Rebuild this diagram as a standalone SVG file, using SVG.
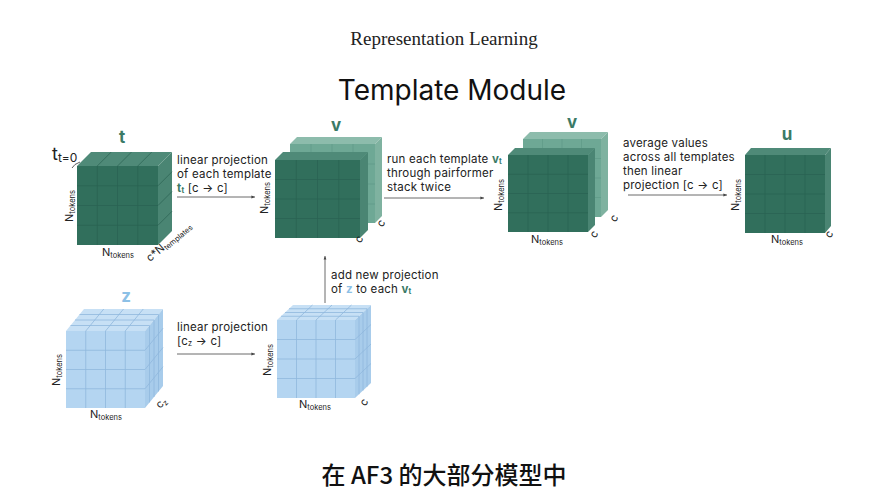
<svg xmlns="http://www.w3.org/2000/svg" width="889" height="500" viewBox="0 0 889 500">
<defs>
<marker id="ah" viewBox="0 0 10 10" refX="9" refY="5" markerWidth="5" markerHeight="5" orient="auto"><path d="M0,1.5 L9,5 L0,8.5 z" fill="#444"/></marker>
<style>
.gf{fill:#316f5c}.gt{fill:#4f8a78}.gr{fill:#4a8573}
.gl{stroke:#2a6251;stroke-width:0.7;fill:none}
.lf{fill:#6ea895}.lt{fill:#8dbcac}.lr{fill:#7fb2a0}
.ll{stroke:#5f9a87;stroke-width:0.7;fill:none}
.bf{fill:#b4d5f1}.bt{fill:#c7e0f5}.br{fill:#a8cceb}
.bl{stroke:#8fb8dd;stroke-width:0.8;fill:none}
.tx{font-family:Inter,"Liberation Sans",sans-serif;font-size:11.5px;letter-spacing:0.2px;fill:#222}
.lb{font-family:Inter,"Liberation Sans",sans-serif;font-size:11px;fill:#222}
.sb{font-size:7.5px}
.hg{font-family:Inter,"Liberation Sans",sans-serif;font-size:17px;font-weight:bold;fill:#3b7a66}
.hb{font-family:Inter,"Liberation Sans",sans-serif;font-size:17px;font-weight:bold;fill:#8cc0e6}
.ar{stroke:#444;stroke-width:0.8;fill:none;marker-end:url(#ah)}
</style>
</defs>
<rect width="889" height="500" fill="#fff"/>
<text x="444" y="45" text-anchor="middle" font-family="'Liberation Serif',serif" font-size="19" fill="#222">Representation Learning</text>
<text x="452" y="100" text-anchor="middle" font-family="Inter,'Liberation Sans',sans-serif" font-size="28" fill="#111">Template Module</text>
<text x="444" y="484" text-anchor="middle" font-family="'Noto Sans CJK SC',sans-serif" font-size="24" font-weight="500" fill="#111">在 AF3 的大部分模型中</text>

<g id="cube-t">
<polygon class="gt" points="77,166 91,152 172,152 158,166"/>
<polygon class="gr" points="158,166 172,152 172,231 158,245"/>
<rect class="gf" x="77" y="166" width="81" height="79"/>
<path class="gl" d="M97.25,166V245M117.5,166V245M137.75,166V245M77,185.75H158M77,205.5H158M77,225.25H158M97.25,166l14,-14M117.5,166l14,-14M137.75,166l14,-14M158,185.75l14,-14M158,205.5l14,-14M158,225.25l14,-14"/>
<text class="hg" x="122" y="143" text-anchor="middle">t</text>
<text font-family="Inter,'Liberation Sans',sans-serif" fill="#222" x="52" y="160" font-size="18">t<tspan font-size="12" dy="2">t=0</tspan></text>
<path d="M72,168 Q74,164 80,162" stroke="#333" stroke-width="0.8" fill="none"/>
<text class="lb" transform="translate(73,206) rotate(-90)" text-anchor="middle">N<tspan class="sb" dy="2">tokens</tspan></text>
<text class="lb" x="118" y="256" text-anchor="middle">N<tspan class="sb" dy="2">tokens</tspan></text>
<text class="lb" transform="translate(150,262) rotate(-40)">c*N<tspan class="sb" dy="2">templates</tspan></text>
</g>

<g id="cube-v">
<polygon class="lt" points="290,144 297,137 382,137 375,144"/>
<polygon class="lr" points="375,144 382,137 382,216 375,223"/>
<rect class="lf" x="290" y="144" width="85" height="79"/>
<path class="ll" d="M311,144V223M332,144V223M353,144V223M290,164H375M290,184H375M290,204H375"/>
<polygon class="gt" points="275,160 283,152 368,152 360,160"/>
<polygon class="gr" points="360,160 368,152 368,230 360,238"/>
<rect class="gf" x="275" y="160" width="85" height="78"/>
<path class="gl" d="M296.25,160V238M317.5,160V238M338.75,160V238M275,179.5H360M275,199H360M275,218.5H360"/>
<text class="hg" x="336" y="131" text-anchor="middle">v</text>
<text class="lb" transform="translate(268,198) rotate(-90)" text-anchor="middle">N<tspan class="sb" dy="2">tokens</tspan></text>
<text class="lb" transform="translate(362,241) rotate(-60)" text-anchor="middle">c</text>
<text class="lb" transform="translate(384,225) rotate(-60)" text-anchor="middle">c</text>
</g>

<g id="cube-v2">
<polygon class="lt" points="523,139 530,132 608,132 601,139"/>
<polygon class="lr" points="601,139 608,132 608,210 601,217"/>
<rect class="lf" x="523" y="139" width="78" height="78"/>
<path class="ll" d="M542.5,139V217M562,139V217M581.5,139V217M523,158.5H601M523,178H601M523,197.5H601"/>
<polygon class="gt" points="508,155 515,148 595,148 588,155"/>
<polygon class="gr" points="588,155 595,148 595,225 588,232"/>
<rect class="gf" x="508" y="155" width="80" height="77"/>
<path class="gl" d="M528,155V232M548,155V232M568,155V232M508,174.25H588M508,193.5H588M508,212.75H588"/>
<text class="hg" x="572" y="128" text-anchor="middle">v</text>
<text class="lb" transform="translate(502,195) rotate(-90)" text-anchor="middle">N<tspan class="sb" dy="2">tokens</tspan></text>
<text class="lb" x="547" y="243" text-anchor="middle">N<tspan class="sb" dy="2">tokens</tspan></text>
<text class="lb" transform="translate(597,236) rotate(-60)" text-anchor="middle">c</text>
<text class="lb" transform="translate(617,220) rotate(-60)" text-anchor="middle">c</text>
</g>

<g id="cube-u">
<polygon class="gt" points="745,155 751,148 831,148 825,155"/>
<polygon class="gr" points="825,155 831,148 831,226 825,233"/>
<rect class="gf" x="745" y="155" width="80" height="78"/>
<path class="gl" d="M765,155V233M785,155V233M805,155V233M745,174.5H825M745,194H825M745,213.5H825"/>
<text class="hg" x="787" y="140" text-anchor="middle">u</text>
<text class="lb" transform="translate(739,195) rotate(-90)" text-anchor="middle">N<tspan class="sb" dy="2">tokens</tspan></text>
<text class="lb" x="787" y="243" text-anchor="middle">N<tspan class="sb" dy="2">tokens</tspan></text>
<text class="lb" transform="translate(832,236) rotate(-60)" text-anchor="middle">c</text>
</g>

<g id="cube-z">
<polygon class="bt" points="66,331 84,309 163,309 145,331"/>
<polygon class="br" points="145,331 163,309 163,386 145,408"/>
<rect class="bf" x="66" y="331" width="79" height="77"/>
<path class="bl" d="M85.75,331V408M105.5,331V408M125.25,331V408M66,350.25H145M66,369.5H145M66,388.75H145M85.75,331l18,-22M105.5,331l18,-22M125.25,331l18,-22M70.5,325.5H149.5M75,320H154M79.5,314.5H158.5M149.5,325.5V402.5M154,320V397M158.5,314.5V391.5M145,350.25l18,-22M145,369.5l18,-22M145,388.75l18,-22"/>
<text class="hb" x="126" y="302" text-anchor="middle">z</text>
<text class="lb" transform="translate(60,370) rotate(-90)" text-anchor="middle">N<tspan class="sb" dy="2">tokens</tspan></text>
<text class="lb" x="106" y="418" text-anchor="middle">N<tspan class="sb" dy="2">tokens</tspan></text>
<text class="lb" transform="translate(160,409) rotate(-45)">c<tspan class="sb" dy="2">z</tspan></text>
</g>

<g id="cube-z2">
<polygon class="bt" points="277,320 293,305 371,305 355,320"/>
<polygon class="br" points="355,320 371,305 371,383 355,398"/>
<rect class="bf" x="277" y="320" width="78" height="78"/>
<path class="bl" d="M296.5,320V398M316,320V398M335.5,320V398M277,339.5H355M277,359H355M277,378.5H355M296.5,320l16,-15M316,320l16,-15M335.5,320l16,-15M281,316.25H359M285,312.5H363M289,308.75H367M359,316.25V394.25M363,312.5V390.5M367,308.75V386.75M355,339.5l16,-15M355,359l16,-15M355,378.5l16,-15"/>
<text class="lb" transform="translate(271,360) rotate(-90)" text-anchor="middle">N<tspan class="sb" dy="2">tokens</tspan></text>
<text class="lb" x="315" y="408" text-anchor="middle">N<tspan class="sb" dy="2">tokens</tspan></text>
<text class="lb" transform="translate(367,404) rotate(-60)" text-anchor="middle">c</text>
</g>

<g id="connectors">
<path class="ar" d="M177,197 H255"/>
<path class="ar" d="M384,198 H484"/>
<path class="ar" d="M628,195 H727"/>
<path class="ar" d="M177,354 H255"/>
<path class="ar" d="M325,303 V256"/>
</g>

<g id="labels">
<text class="tx" x="177" y="164">linear projection</text>
<text class="tx" x="177" y="178">of each template</text>
<text class="tx" x="177" y="192"><tspan font-weight="bold" fill="#3b7a66">t<tspan font-size="7.5" dy="1">t</tspan></tspan><tspan dy="-1">  [c → c]</tspan></text>
<text class="tx" x="387" y="163">run each template <tspan font-weight="bold" fill="#3b7a66">v<tspan font-size="7.5" dy="1">t</tspan></tspan></text>
<text class="tx" x="387" y="177">through pairformer</text>
<text class="tx" x="387" y="191">stack twice</text>
<text class="tx" x="623" y="147">average values</text>
<text class="tx" x="623" y="161">across all templates</text>
<text class="tx" x="623" y="175">then linear</text>
<text class="tx" x="623" y="189">projection [c → c]</text>
<text class="tx" x="177" y="331">linear projection</text>
<text class="tx" x="177" y="345">[c<tspan font-size="7.5" dy="1">z</tspan><tspan dy="-1"> → c]</tspan></text>
<text class="tx" x="331" y="279">add new projection</text>
<text class="tx" x="331" y="293">of <tspan font-weight="bold" fill="#8cc0e6">z</tspan> to each <tspan font-weight="bold" fill="#3b7a66">v<tspan font-size="7.5" dy="1">t</tspan></tspan></text>
</g>
</svg>
